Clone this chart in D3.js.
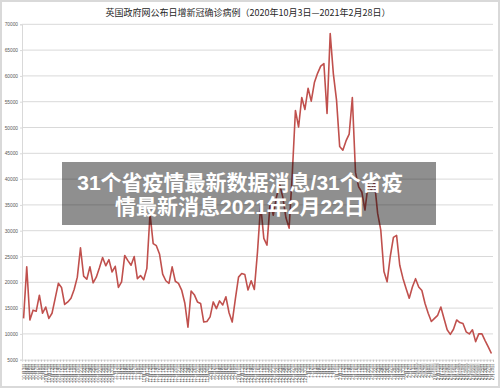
<!DOCTYPE html>
<html><head><meta charset="utf-8">
<script src="https://cdn.jsdelivr.net/npm/d3@7"></script>
<style>
html,body{margin:0;padding:0;background:#fff;}
svg{display:block;font-family:"Noto Sans CJK SC","Noto Sans",sans-serif;}
</style></head>
<body>
<svg id="chart" width="500" height="388"></svg>
<script>
const title = "英国政府网公布日增新冠确诊病例（2020年10月3日—2021年2月28日）";
const overlayLines = ["31个省疫情最新数据消息/31个省疫", "情最新消息2021年2月22日"];
const watermark = "知乎 @刘旸";
const startDate = new Date(2020, 9, 3);
const endDate = new Date(2021, 1, 28);
const categories = d3.timeDay.range(startDate, d3.timeDay.offset(endDate, 1))
  .map(d => (d.getMonth() + 1) + "月" + d.getDate() + "日");
const yTicks = [5000,10000,15000,20000,25000,30000,35000,40000,45000,50000,55000,60000,65000,70000];
const cases = [
 13000,23000,12700,14600,14400,17500,14000,15200,13000,14000,
 16900,19800,19000,15700,16200,16900,18600,21000,26700,21200,
 20600,23000,19900,21000,22800,24800,23200,24400,22000,23100,
 19000,20100,25200,24200,23300,25000,20700,21300,20500,22700,
 33300,27500,27100,25500,21600,20300,19800,23000,20200,19800,
 18500,16000,11300,18300,17600,16200,15900,12300,12400,13300,
 16200,14900,16400,15600,17200,14100,12300,16800,21000,21700,
 21500,18500,20300,18600,25900,35000,28500,27200,35500,33000,
 36500,39000,36500,32500,30500,41000,53300,50100,55800,53500,
 57600,55100,58700,60500,61900,62400,52700,68200,60400,55300,
 46300,45600,47400,48700,55800,41300,38500,37500,34000,39000,
 37900,39500,33400,30100,22100,20100,25000,28700,29100,23300,
 20800,18800,16900,19100,20700,19100,18400,15900,14000,12400,
 13000,13600,15200,13000,10800,9900,10900,12700,12200,12000,
 10400,10000,10800,8500,10000,10000,8700,7500,6200
];

const svg = d3.select("#chart");
const W = 500, H = 388;
const mLeft = 22, mRight = 493, mTop = 24.3, mBottom = 359.7;

svg.append("rect").attr("x",1).attr("y",1).attr("width",W-2).attr("height",H-2)
  .attr("fill","#fff").attr("stroke","#d9d9d9").attr("stroke-width",2);

const x = d3.scalePoint().domain(categories).range([mLeft, mRight]).padding(0.5);
const y = d3.scaleLinear().domain([5000, 70000]).range([mBottom, mTop]);

svg.append("text").attr("x", 248).attr("y", 15.5).attr("text-anchor","middle")
  .attr("font-size", 9).attr("fill","#262626").text(title);

// gridlines
svg.append("g").selectAll("line").data(yTicks.filter(t => t > 5000)).join("line")
  .attr("x1", mLeft).attr("x2", mRight).attr("y1", d => y(d)).attr("y2", d => y(d))
  .attr("stroke","#d9d9d9").attr("stroke-width",1);

// y axis
const yAxis = d3.axisLeft(y).tickValues(yTicks).tickSize(2).tickPadding(2).tickFormat(d3.format("d"));
const gy = svg.append("g").attr("transform", `translate(${mLeft},0)`).call(yAxis);
gy.select(".domain").attr("stroke","#d9d9d9");
gy.selectAll(".tick line").attr("stroke","#d9d9d9");
gy.selectAll("text").attr("font-size", 4.8).attr("fill","#595959")
  .attr("font-family","Liberation Sans, Arial, sans-serif");

// x axis
const xAxis = d3.axisBottom(x).tickSize(2).tickPadding(1);
const gx = svg.append("g").attr("transform", `translate(0,${mBottom})`).call(xAxis);
gx.select(".domain").attr("stroke","#d9d9d9");
gx.selectAll(".tick line").attr("stroke","#bfbfbf").attr("transform", `translate(${x.step()/2},0)`);
gx.selectAll("text").attr("font-size", 4.6).attr("fill","#595959")
  .attr("text-anchor","end").attr("dy","0.35em")
  .attr("transform","translate(0,1) rotate(-90)").attr("x",-2).attr("y",0);

// line
const line = d3.line().x((d,i) => x(categories[i])).y(d => y(d));
svg.append("path").datum(cases).attr("d", line).attr("fill","none")
  .attr("stroke","#c0504d").attr("stroke-width",1.6).attr("stroke-linejoin","round");

// overlay banner
svg.append("rect").attr("x",62).attr("y",162).attr("width",374).attr("height",63)
  .attr("fill","#000").attr("fill-opacity",0.44);
svg.append("g").selectAll("text").data(overlayLines).join("text")
  .attr("x", 240).attr("y", (d,i) => 190 + i*23.5).attr("text-anchor","middle")
  .attr("font-family", "'Liberation Sans','Noto Sans CJK SC',sans-serif")
  .attr("font-size", 21).attr("font-weight","bold").attr("fill","#fff").text(d => d);

// watermark
svg.append("text").attr("x", 448).attr("y", 374).attr("text-anchor","middle")
  .attr("font-size", 13).attr("fill","#fff").attr("fill-opacity",0.6)
  .attr("stroke","#aaa").attr("stroke-width",0.6).attr("stroke-opacity",0.6)
  .text(watermark);
</script>
</body></html>
